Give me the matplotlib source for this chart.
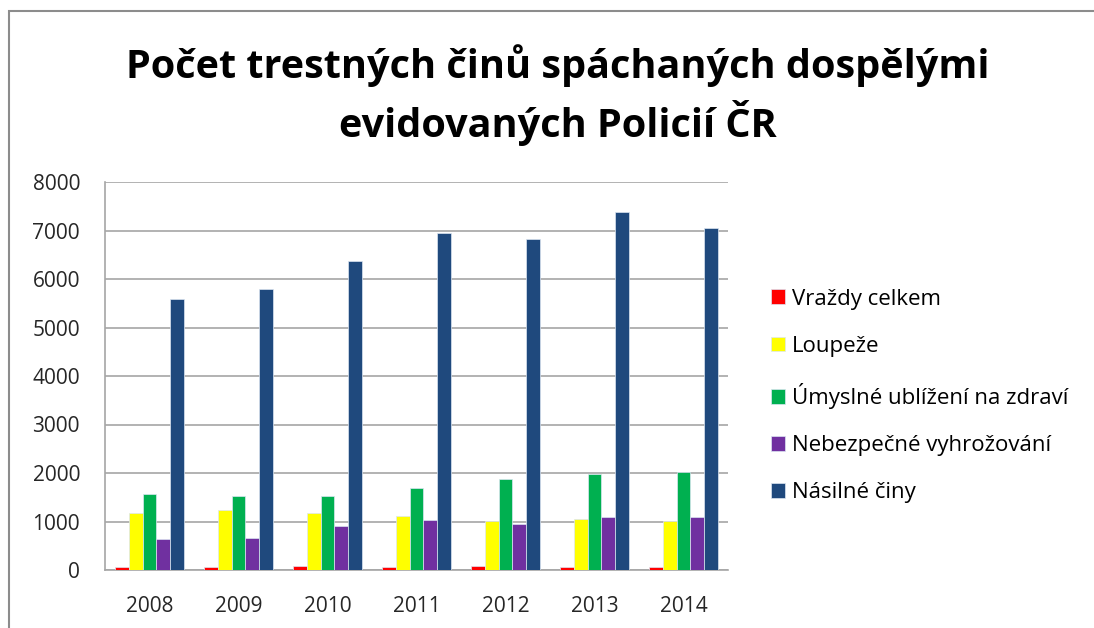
import matplotlib
matplotlib.use('Agg')
import matplotlib.pyplot as plt
from matplotlib.patches import Rectangle
import numpy as np

years = ['2008', '2009', '2010', '2011', '2012', '2013', '2014']
series_names = ['Vraždy celkem', 'Loupeže', 'Úmyslné ublížení na zdraví',
                'Nebezpečné vyhrožování', 'Násilné činy']
vrazdy = [55, 55, 82, 55, 82, 55, 55]
loupeze = [1170, 1245, 1170, 1115, 1010, 1060, 1010]
ublizeni = [1570, 1535, 1535, 1690, 1875, 1980, 2015]
vyhrozovani = [640, 665, 905, 1030, 955, 1085, 1085]
nasilne = [5580, 5795, 6370, 6950, 6820, 7375, 7060]
colors = ['#FF0000', '#FFFF00', '#00B050', '#7030A0', '#1F497D']

plt.rcParams['font.family'] = ['Open Sans', 'DejaVu Sans']

fig = plt.figure(figsize=(10.94, 6.28), dpi=100)
# outer chart frame
fig.patches.append(Rectangle((9 / 1094, -0.1), 1.2, 1 - 11 / 628 + 0.1, transform=fig.transFigure,
                             fill=False, edgecolor='#8c8c8c', linewidth=1.5))

ax = fig.add_axes([105 / 1094, 58 / 628, 623 / 1094, 388 / 628])

x = np.arange(len(years))
w = 0.155
data = [vrazdy, loupeze, ublizeni, vyhrozovani, nasilne]
for i, (vals, c, name) in enumerate(zip(data, colors, series_names)):
    ax.bar(x + (i - 2) * w, vals, w, color=c, edgecolor='#dce6f2', linewidth=0.5, label=name, zorder=3)

ax.set_xlim(-0.5, len(years) - 0.5)
ax.set_ylim(0, 8000)
ax.set_yticks(range(0, 8001, 1000))
ax.set_xticks(x)
ax.set_xticklabels(years)
ax.yaxis.grid(True, color='#a6a6a6', linewidth=1.2, zorder=0)
ax.tick_params(axis='both', length=0, labelsize=15, colors='#262626')
ax.tick_params(axis='y', pad=18)
ax.tick_params(axis='x', pad=19)
for s in ['top', 'right']:
    ax.spines[s].set_visible(False)
for s in ['left', 'bottom']:
    ax.spines[s].set_color('#a6a6a6')
    ax.spines[s].set_linewidth(1.2)

fig.text(0.51, 0.848, 'Počet trestných činů spáchaných dospělými\nevidovaných Policií ČR',
         ha='center', va='center', fontsize=28.5, fontweight='bold', linespacing=1.35)

leg = fig.legend(loc='center left', frameon=False, fontsize=16, handlelength=0.65,
                 handleheight=0.65, handletextpad=0.3, labelspacing=1.18, borderaxespad=0,
                 borderpad=0)
leg.set_bbox_to_anchor((771 / 1094, 1 - 396 / 628), transform=fig.transFigure)

fig.savefig('out.png', dpi=100)
